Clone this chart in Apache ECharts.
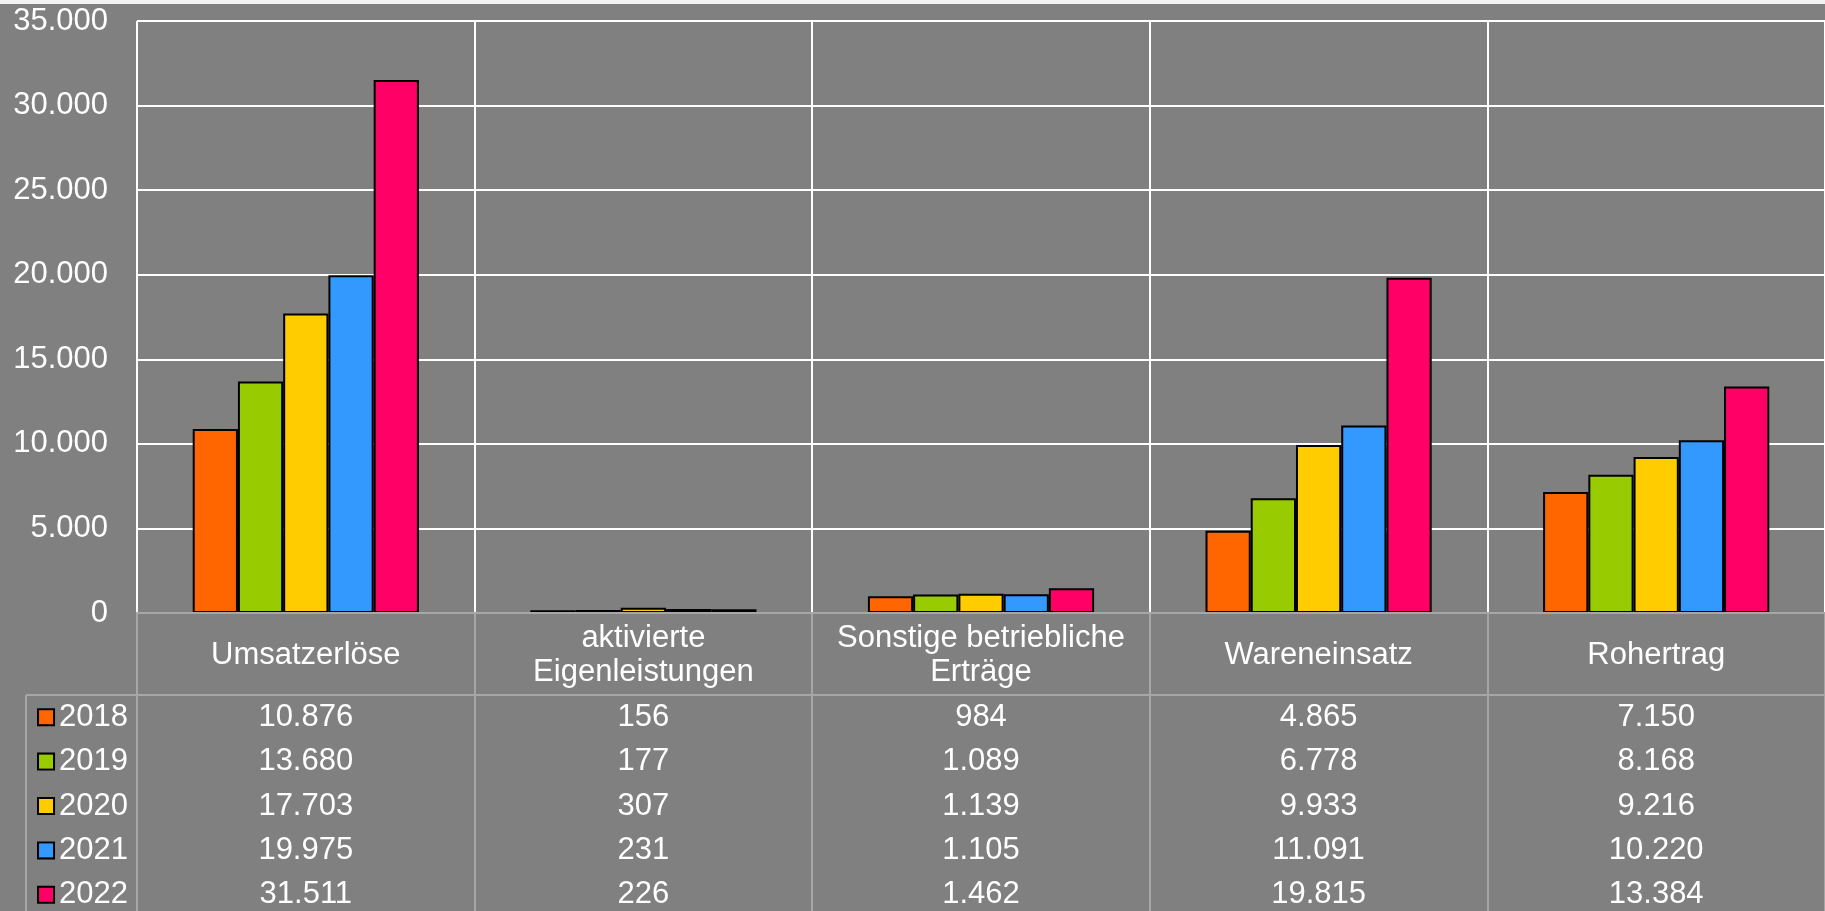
<!DOCTYPE html>
<html>
<head>
<meta charset="utf-8">
<script src="https://cdn.jsdelivr.net/npm/echarts@6/dist/echarts.min.js"></script>
<style>
html,body{margin:0;padding:0;background:#808080;}
#c{width:1825px;height:911px;}
</style>
</head>
<body>
<div id="c"></div>
<script>
// ---- data ----
var categories = ['Umsatzerlöse', 'aktivierte\nEigenleistungen', 'Sonstige betriebliche\nErträge', 'Wareneinsatz', 'Rohertrag'];
var years = ['2018', '2019', '2020', '2021', '2022'];
var v2018 = [10876, 156, 984, 4865, 7150];
var v2019 = [13680, 177, 1089, 6778, 8168];
var v2020 = [17703, 307, 1139, 9933, 9216];
var v2021 = [19975, 231, 1105, 11091, 10220];
var v2022 = [31511, 226, 1462, 19815, 13384];
var yTicks = [0, 5000, 10000, 15000, 20000, 25000, 30000, 35000];
var colors = ['#ff6600', '#99cc00', '#ffcc00', '#3399ff', '#ff0066'];

var seriesValues = [v2018, v2019, v2020, v2021, v2022];

function fmt(n) {
  return String(n).replace(/\B(?=(\d{3})+(?!\d))/g, '.');
}

var FONT = 'Liberation Sans, Arial, sans-serif';
var FS = 31;
var LINE = '#a6a6a6';

var chart = echarts.init(document.getElementById('c'), null, {renderer: 'canvas'});

var series = [];
seriesValues.forEach(function (vals, i) {
  series.push({
    name: years[i],
    type: 'bar',
    xAxisIndex: 0, yAxisIndex: 0,
    data: vals,
    barGap: '0%',
    barCategoryGap: '33%',
    itemStyle: {color: colors[i], borderColor: '#000', borderWidth: 2},
    silent: true
  });
});

// table values
var tableData = [];
seriesValues.forEach(function (vals, i) {
  vals.forEach(function (v, j) {
    tableData.push([j, i, v]);
  });
});
series.push({
  type: 'scatter',
  xAxisIndex: 1, yAxisIndex: 1,
  data: tableData,
  symbolSize: 1,
  itemStyle: {color: 'rgba(0,0,0,0)', opacity: 1},
  label: {
    show: true, position: 'inside',
    color: '#ffffff', fontSize: FS, fontFamily: FONT, opacity: 1,
    formatter: function (p) { return fmt(p.value[2]); }
  },
  silent: true, z: 5
});

var rich = {t: {color: '#fff', fontSize: FS, fontFamily: FONT, padding: [0, 0, 0, 6]}};
years.forEach(function (y, i) {
  rich['s' + i] = {width: 14, height: 14, backgroundColor: colors[i], borderColor: '#000', borderWidth: 2};
});

var gridLeft = 137, gridTop = 21, zeroY = 613, headerBottom = 695, legendLeft = 26;

chart.setOption({
  backgroundColor: '#808080',
  animation: false,
  grid: [
    {left: gridLeft, top: gridTop, right: 0, height: zeroY - gridTop, outerBoundsMode: 'none'},
    {left: gridLeft, top: headerBottom, right: 0, height: 222, outerBoundsMode: 'none'}
  ],
  xAxis: [
    {
      type: 'category', gridIndex: 0, data: categories,
      axisLine: {show: true, lineStyle: {color: LINE, width: 2}},
      axisTick: {show: true, length: headerBottom - zeroY, lineStyle: {color: LINE, width: 2}, interval: 0},
      axisLabel: {color: '#fff', fontSize: FS, fontFamily: FONT, lineHeight: 34, margin: 42, verticalAlign: 'middle', interval: 0},
      splitLine: {show: true, interval: 0, lineStyle: {color: '#fff', width: 2}},
      z: 3
    },
    {
      type: 'category', gridIndex: 1, data: categories, position: 'top',
      axisLine: {show: true, lineStyle: {color: LINE, width: 2}},
      axisTick: {show: false}, axisLabel: {show: false},
      splitLine: {show: true, interval: 0, lineStyle: {color: LINE, width: 2}}
    }
  ],
  yAxis: [
    {
      type: 'value', gridIndex: 0, min: yTicks[0], max: yTicks[yTicks.length - 1], interval: yTicks[1] - yTicks[0],
      axisLine: {show: false}, axisTick: {show: false},
      axisLabel: {color: '#fff', fontSize: FS, fontFamily: FONT, margin: 29, formatter: function (v) { return fmt(v); }},
      splitLine: {show: true, lineStyle: {color: '#fff', width: 2}}
    },
    {
      type: 'category', gridIndex: 1, data: years, inverse: true,
      axisLine: {show: false}, axisTick: {show: false}, splitLine: {show: false},
      axisLabel: {
        margin: 9,
        formatter: function (v, i) { return '{s' + i + '|}{t|' + v + '}'; },
        rich: rich
      }
    }
  ],
  graphic: [
    {type: 'rect', shape: {x: 0, y: 0, width: 1825, height: 4}, style: {fill: '#f2f2f2'}, silent: true},
    {type: 'line', shape: {x1: legendLeft, y1: headerBottom, x2: gridLeft, y2: headerBottom}, style: {stroke: LINE, lineWidth: 2}, silent: true},
    {type: 'line', shape: {x1: legendLeft, y1: headerBottom, x2: legendLeft, y2: 911}, style: {stroke: LINE, lineWidth: 2}, silent: true}
  ],
  series: series
});
</script>
</body>
</html>
